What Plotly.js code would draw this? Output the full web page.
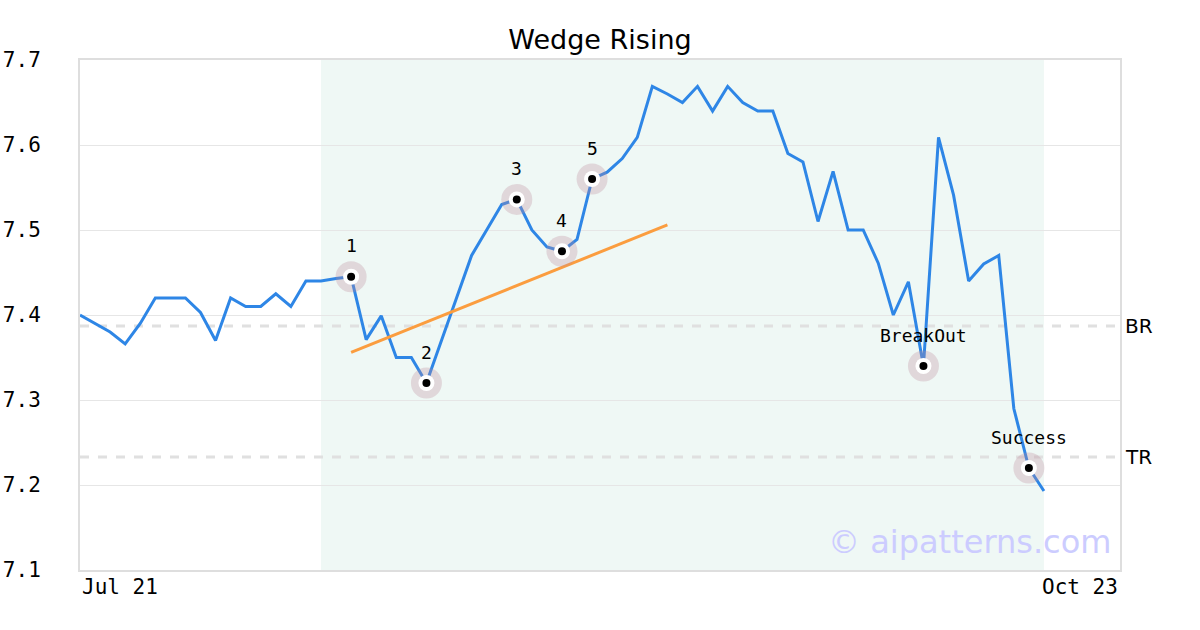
<!DOCTYPE html>
<html>
<head>
<meta charset="utf-8">
<script src="https://cdn.plot.ly/plotly-3.0.1.min.js"></script>
<style>html,body{margin:0;padding:0;background:#fff;}#chart{width:1200px;height:630px;}</style>
</head>
<body>
<div id="chart"></div>
<script>
// Price series (one value per session, index 0 = Jul 21)
const prices = [7.40,7.39,7.38,7.366,7.39,7.42,7.42,7.42,7.403,7.37,
  7.42,7.41,7.41,7.425,7.41,7.44,7.44,7.443,7.445,7.371,
  7.399,7.35,7.35,7.32,7.37,7.42,7.47,7.50,7.53,7.536,
  7.50,7.48,7.475,7.489,7.56,7.568,7.584,7.609,7.669,7.66,
  7.65,7.669,7.64,7.669,7.65,7.64,7.64,7.59,7.58,7.51,
  7.569,7.50,7.50,7.461,7.40,7.439,7.34,7.609,7.541,7.44,
  7.46,7.47,7.29,7.22,7.193];
const xIndex = prices.map((_, i) => i);
const axisEnd = 69.05;

// Pattern points
const patternIdx = [18,23,29,32,34,56,63];
const patternLabels = ["1","2","3","4","5","BreakOut","Success"];

// Trend line (wedge support)
const trendX = [18,39];
const trendY = [7.356,7.506];

// Pattern window (shaded)
const windowX = [16,64];

// Horizontal levels
const levelNames = ["BR","TR"];
const levelValues = [7.387,7.233];

// Axis labels
const xTickLabels = ["Jul 21","Oct 23"];
const yTicks = [7.1,7.2,7.3,7.4,7.5,7.6,7.7];

const px = patternIdx;
const py = patternIdx.map(i => prices[i]);

const traces = [
  {x: xIndex, y: prices, type:'scatter', mode:'lines',
   line:{color:'#2e86e6', width:3}, hoverinfo:'skip', showlegend:false},
  {x: trendX, y: trendY, type:'scatter', mode:'lines',
   line:{color:'#fb9d3f', width:3}, hoverinfo:'skip', showlegend:false},
  {x: px, y: py, type:'scatter', mode:'markers',
   marker:{size:31, color:'rgba(190,140,155,0.3)'}, hoverinfo:'skip', showlegend:false},
  {x: px, y: py, type:'scatter', mode:'markers',
   marker:{size:16, color:'#ffffff'}, hoverinfo:'skip', showlegend:false},
  {x: px, y: py, type:'scatter', mode:'markers',
   marker:{size:8, color:'#000000'}, hoverinfo:'skip', showlegend:false}
];

const shapes = [
  {type:'rect', xref:'x', yref:'paper', x0:windowX[0], x1:windowX[1], y0:0, y1:1,
   fillcolor:'#eff8f5', line:{width:0}, layer:'below'}
];
levelValues.forEach(v => shapes.push({type:'line', xref:'paper', yref:'y', x0:0, x1:1, y0:v, y1:v,
  line:{color:'#e0e0e0', width:3, dash:'dash'}, layer:'between'}));

const annotations = [];
patternIdx.forEach((i, k) => annotations.push({
  x:i, y:prices[i], xref:'x', yref:'y', text:patternLabels[k], showarrow:false,
  yshift:31, font:{family:'DejaVu Sans Mono', size:18, color:'#000'}
}));
levelNames.forEach((n, k) => annotations.push({
  x:1, y:levelValues[k], xref:'paper', yref:'y', text:n, showarrow:false,
  xanchor:'left', xshift:3, font:{family:'DejaVu Sans', size:20, color:'#000'}
}));
annotations.push({x:0, y:0, xref:'paper', yref:'paper', text:xTickLabels[0], showarrow:false,
  xanchor:'left', yanchor:'top', yshift:-3, font:{family:'DejaVu Sans Mono', size:21, color:'#000'}});
annotations.push({x:1, y:0, xref:'paper', yref:'paper', text:xTickLabels[1], showarrow:false,
  xanchor:'right', yanchor:'top', yshift:-3, font:{family:'DejaVu Sans Mono', size:21, color:'#000'}});
annotations.push({x:0.993, y:0.055, xref:'paper', yref:'paper', text:'© aipatterns.com', showarrow:false,
  xanchor:'right', yanchor:'middle', font:{family:'DejaVu Sans', size:32, color:'rgb(204,204,255)'}});

const layout = {
  width:1200, height:630,
  margin:{l:80, r:80, t:60, b:60},
  paper_bgcolor:'#ffffff', plot_bgcolor:'rgba(0,0,0,0)',
  title:{text:'Wedge Rising', x:0.5, xanchor:'center', y:0.937, yanchor:'middle',
    font:{family:'DejaVu Sans', size:27, color:'#000'}},
  xaxis:{range:[0, axisEnd], showgrid:false, zeroline:false, showticklabels:false,
    showline:true, mirror:true, linecolor:'#dedede', linewidth:2, ticks:''},
  yaxis:{range:[7.1,7.7], tickvals:yTicks, tickformat:'.1f', showgrid:true, gridcolor:'#e6e6e6',
    gridwidth:1, zeroline:false, showline:true, mirror:true, linecolor:'#dedede', linewidth:2,
    ticks:'', ticklabelstandoff:33, tickfont:{family:'DejaVu Sans Mono', size:21, color:'#000'}},
  shapes: shapes,
  annotations: annotations,
  showlegend:false
};

Plotly.newPlot('chart', traces, layout, {staticPlot:true, displayModeBar:false});
</script>
</body>
</html>
